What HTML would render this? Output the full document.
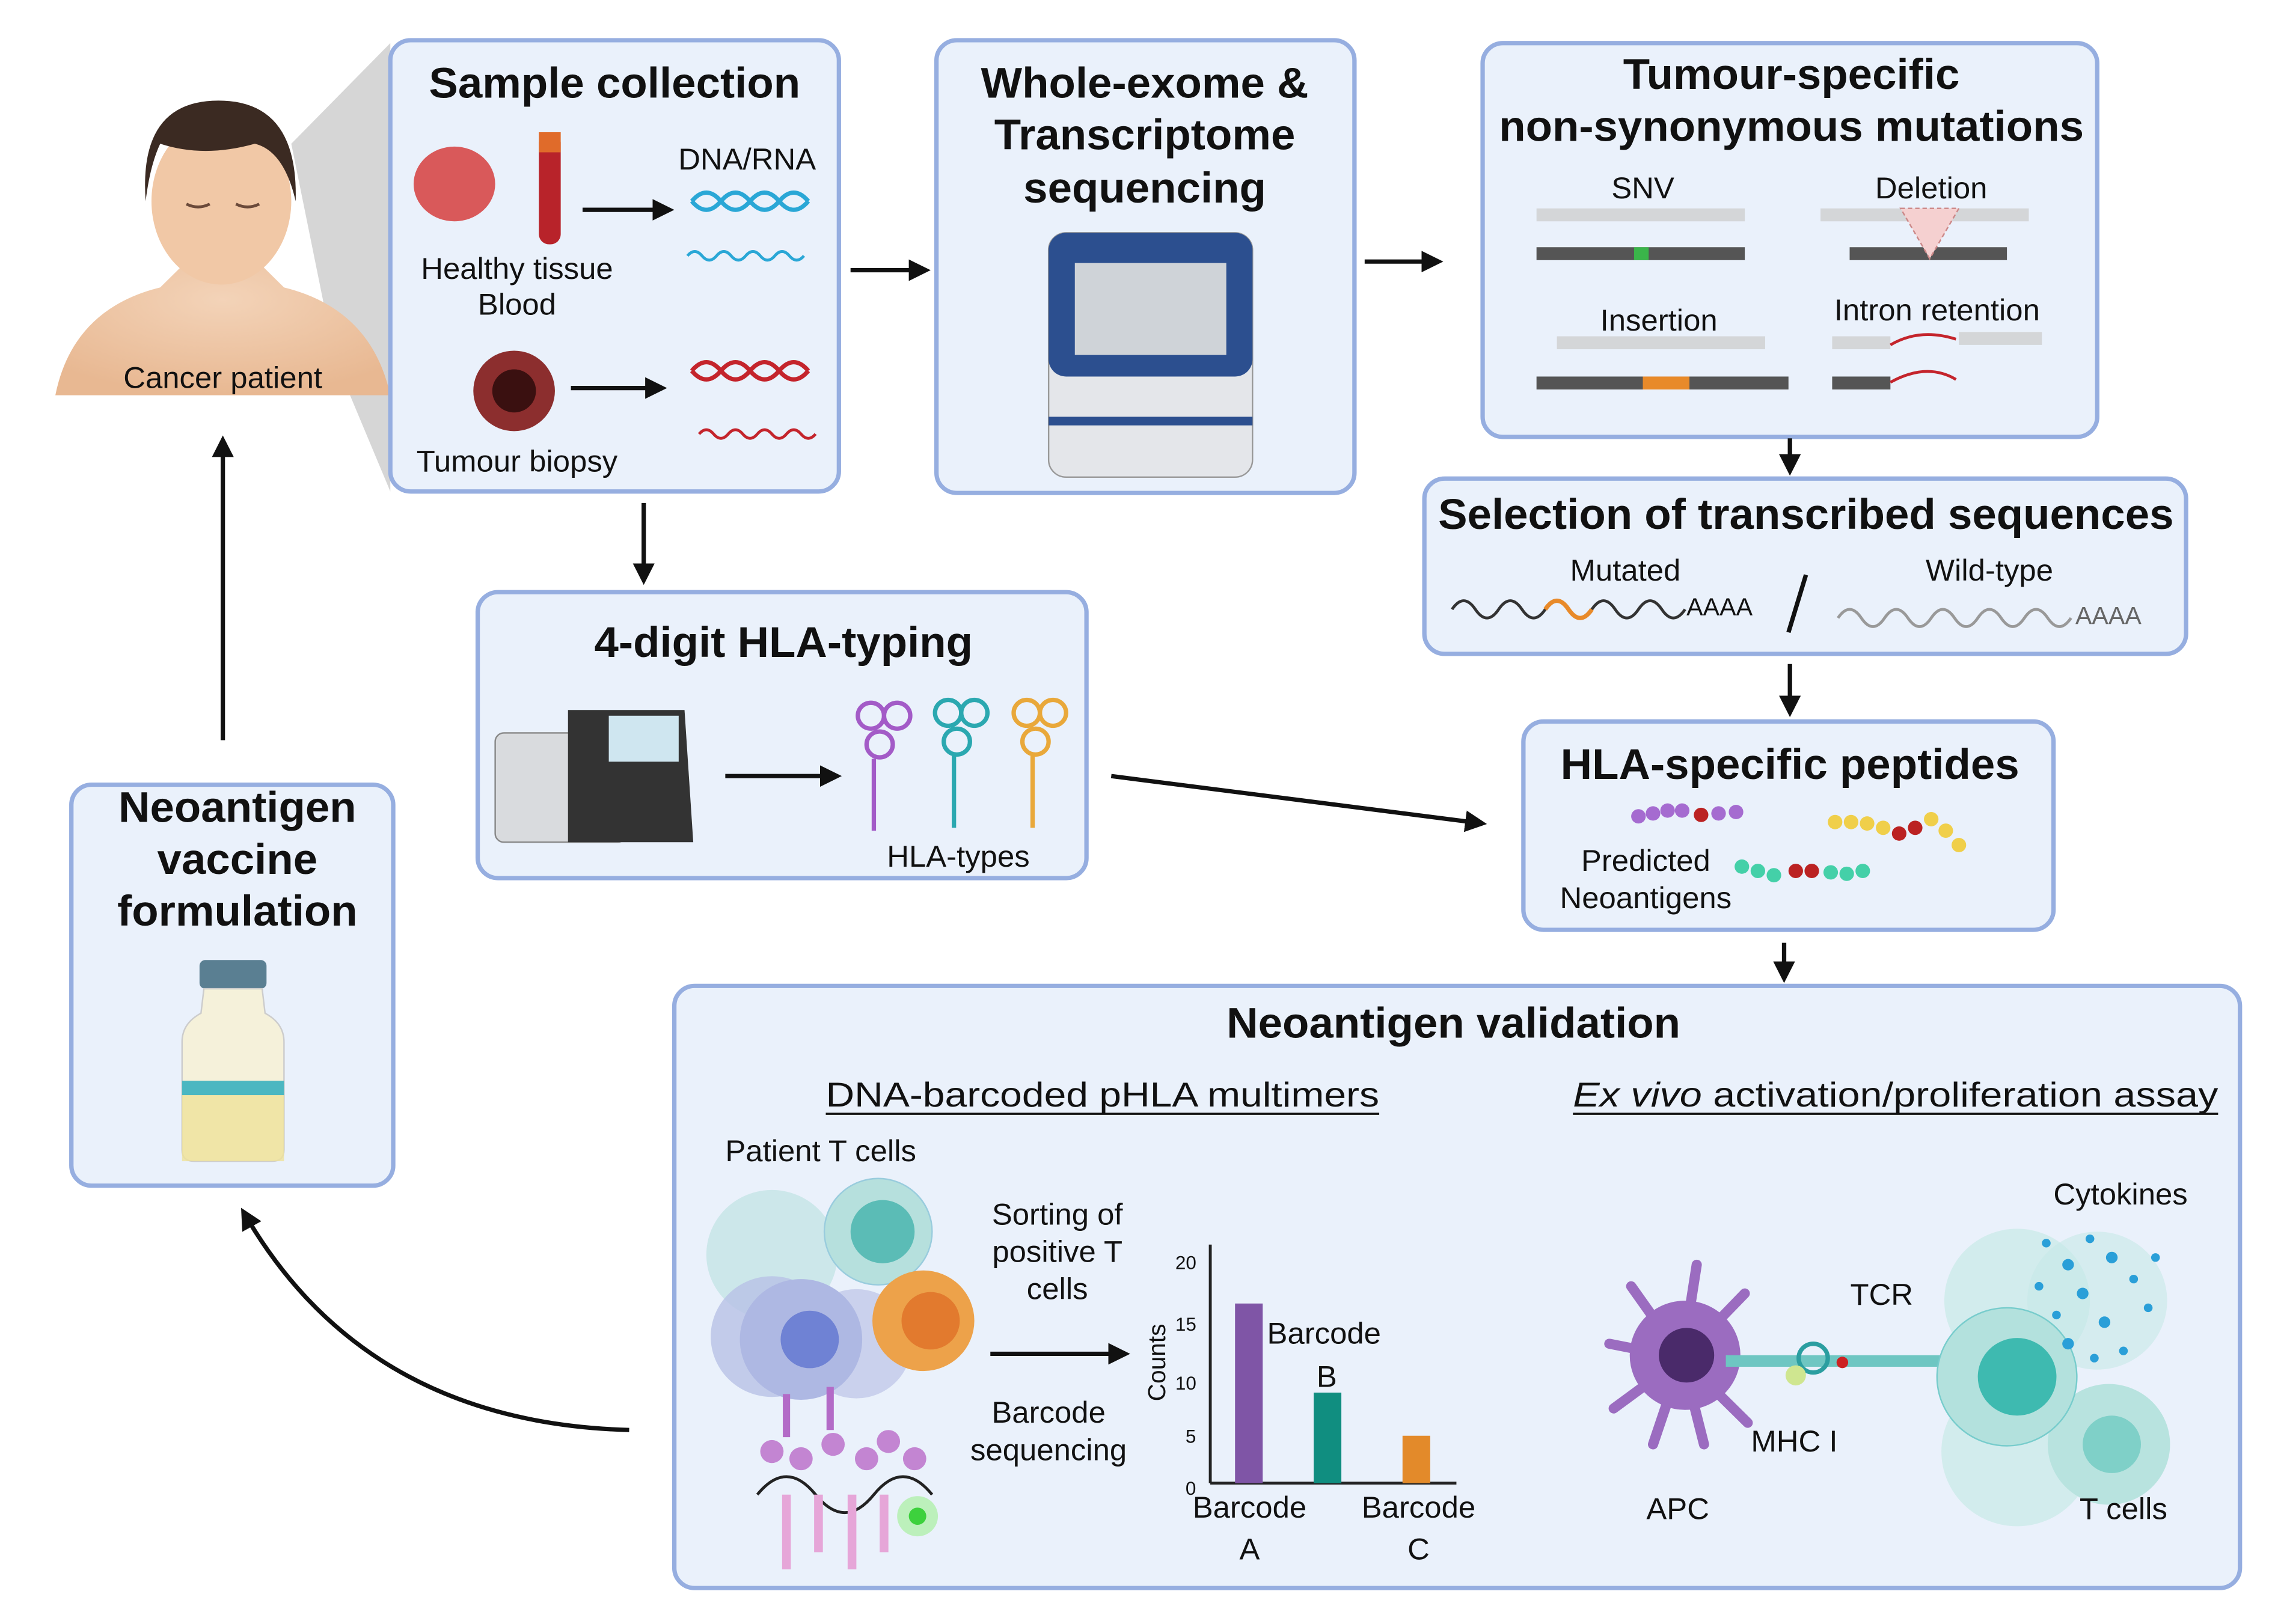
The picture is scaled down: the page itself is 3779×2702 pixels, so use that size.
<!DOCTYPE html>
<html><head><meta charset="utf-8"><style>
html,body{margin:0;padding:0;background:#fff;}
svg{display:block;}
text{font-family:"Liberation Sans",sans-serif;fill:#111;}
.t{font-weight:bold;font-size:30px;text-anchor:middle;}
.l{font-size:21px;}
.m{text-anchor:middle;}
.box{fill:#eaf1fb;stroke:#96aee0;stroke-width:3;}
.ar{stroke:#111;stroke-width:3;fill:none;}
</style></head><body>
<svg width="3779" height="2702" viewBox="0 0 1560 1130" preserveAspectRatio="none" xmlns="http://www.w3.org/2000/svg">
<defs>
<marker id="a" markerWidth="5" markerHeight="5" refX="4" refY="2.5" orient="auto" markerUnits="strokeWidth"><path d="M0,0 L5,2.5 L0,5 z" fill="#111"/></marker>
<radialGradient id="sk" cx="0.5" cy="0.3" r="0.7"><stop offset="0" stop-color="#f3d3b8"/><stop offset="1" stop-color="#e8b892"/></radialGradient>
</defs>
<rect width="1560" height="1130" fill="#fff"/>
<!-- patient -->
<polygon points="200,100 268,30 268,342 230,250" fill="#d6d6d6"/>
<path d="M38,275 Q50,215 110,200 L130,180 L175,180 L195,200 Q255,215 268,275 Z" fill="url(#sk)"/>
<ellipse cx="152" cy="140" rx="48" ry="58" fill="#f1c8a6"/>
<path d="M100,140 Q95,70 150,70 Q205,70 203,140 Q195,105 175,100 Q140,110 110,100 Q103,115 100,140 Z" fill="#3b2a22"/>
<path d="M128,142 q8,4 16,0 M162,142 q8,4 16,0" stroke="#6b4a3a" stroke-width="2" fill="none"/>
<text class="l m" x="153" y="270">Cancer patient</text>
<!-- boxes -->
<rect class="box" x="268" y="28" width="308" height="314" rx="14"/>
<rect class="box" x="643" y="28" width="287" height="315" rx="14"/>
<rect class="box" x="1018" y="30" width="422" height="274" rx="14"/>
<rect class="box" x="978" y="333" width="523" height="122" rx="14"/>
<rect class="box" x="328" y="412" width="418" height="199" rx="14"/>
<rect class="box" x="1046" y="502" width="364" height="145" rx="14"/>
<rect class="box" x="49" y="546" width="221" height="279" rx="14"/>
<rect class="box" x="463" y="686" width="1075" height="419" rx="14"/>
<!-- sample collection -->
<text class="t" x="422" y="68">Sample collection</text>
<ellipse cx="312" cy="128" rx="28" ry="26" fill="#d9595a"/>
<rect x="370" y="92" width="15" height="78" rx="7" fill="#b8232a"/><rect x="370" y="92" width="15" height="14" fill="#e06b2a"/>
<text class="l m" x="355" y="194">Healthy tissue</text><text class="l m" x="355" y="219">Blood</text>
<text class="l m" x="513" y="118">DNA/RNA</text>
<path d="M475,140 q10,-12 20,0 t20,0 t20,0 t20,0 M475,140 q10,12 20,0 t20,0 t20,0 t20,0" stroke="#2aa7d6" stroke-width="3" fill="none"/>
<path d="M472,178 q5,-6 10,0 t10,0 t10,0 t10,0 t10,0 t10,0 t10,0 t10,0" stroke="#2aa7d6" stroke-width="2" fill="none"/>
<circle cx="353" cy="272" r="28" fill="#8c2e2e"/><circle cx="353" cy="272" r="15" fill="#3a1010"/>
<path d="M475,258 q10,-12 20,0 t20,0 t20,0 t20,0 M475,258 q10,12 20,0 t20,0 t20,0 t20,0" stroke="#c4242c" stroke-width="3" fill="none"/>
<path d="M480,302 q5,-6 10,0 t10,0 t10,0 t10,0 t10,0 t10,0 t10,0 t10,0" stroke="#c4242c" stroke-width="2" fill="none"/>
<text class="l m" x="355" y="328">Tumour biopsy</text>
<line class="ar" x1="400" y1="146" x2="460" y2="146" marker-end="url(#a)"/>
<line class="ar" x1="392" y1="270" x2="455" y2="270" marker-end="url(#a)"/>
<!-- whole exome -->
<text class="t" x="786" y="68">Whole-exome &amp;</text><text class="t" x="786" y="104">Transcriptome</text><text class="t" x="786" y="141">sequencing</text>
<rect x="720" y="162" width="140" height="170" rx="12" fill="#e4e6ea" stroke="#999"/>
<rect x="720" y="162" width="140" height="100" rx="12" fill="#2c4f8f"/>
<rect x="738" y="183" width="104" height="64" fill="#cfd3d8"/>
<rect x="720" y="290" width="140" height="6" fill="#2c4f8f"/>
<line class="ar" x1="584" y1="188" x2="636" y2="188" marker-end="url(#a)"/>
<line class="ar" x1="937" y1="182" x2="988" y2="182" marker-end="url(#a)"/>
<!-- tumour specific -->
<text class="t" x="1230" y="62">Tumour-specific</text><text class="t" x="1230" y="98">non-synonymous mutations</text>
<text class="l m" x="1128" y="138">SNV</text><text class="l m" x="1326" y="138">Deletion</text>
<rect x="1055" y="145" width="143" height="9" fill="#d4d6d8"/><rect x="1055" y="172" width="143" height="9" fill="#555"/><rect x="1122" y="172" width="10" height="9" fill="#3ab54a"/>
<rect x="1250" y="145" width="143" height="9" fill="#d4d6d8"/><rect x="1270" y="172" width="108" height="9" fill="#555"/>
<path d="M1305,145 L1345,145 L1325,180 Z" fill="#f5d0d0" stroke="#c88" stroke-dasharray="3 2"/>
<text class="l m" x="1139" y="230">Insertion</text><text class="l m" x="1330" y="223">Intron retention</text>
<rect x="1069" y="234" width="143" height="9" fill="#d4d6d8"/><rect x="1055" y="262" width="173" height="9" fill="#555"/><rect x="1128" y="262" width="32" height="9" fill="#e88a2a"/>
<rect x="1258" y="234" width="40" height="9" fill="#d4d6d8"/><rect x="1345" y="231" width="57" height="9" fill="#d4d6d8"/><rect x="1258" y="262" width="40" height="9" fill="#555"/>
<path d="M1298,240 q20,-12 45,-4 M1298,266 q25,-14 45,-2" stroke="#c4242c" stroke-width="2" fill="none"/>
<line class="ar" x1="1229" y1="305" x2="1229" y2="328" marker-end="url(#a)"/>
<!-- selection -->
<text class="t" x="1240" y="368">Selection of transcribed sequences</text>
<text class="l m" x="1116" y="404">Mutated</text><text class="l m" x="1366" y="404">Wild-type</text>
<path d="M997,424 q8,-12 16,0 t16,0 t16,0 t16,0 t16,0 t16,0 t16,0 t16,0 t16,0 t16,0" stroke="#333" stroke-width="2" fill="none"/>
<path d="M1061,424 q8,-12 16,0 t16,0" stroke="#e88a2a" stroke-width="3" fill="none"/>
<text x="1158" y="428" font-size="17">AAAA</text>
<line x1="1240" y1="400" x2="1228" y2="440" stroke="#111" stroke-width="3"/>
<path d="M1262,430 q8,-12 16,0 t16,0 t16,0 t16,0 t16,0 t16,0 t16,0 t16,0 t16,0 t16,0" stroke="#999" stroke-width="2" fill="none"/>
<text x="1425" y="434" font-size="17" style="fill:#666">AAAA</text>
<line class="ar" x1="1229" y1="462" x2="1229" y2="496" marker-end="url(#a)"/>
<!-- HLA typing -->
<line class="ar" x1="442" y1="350" x2="442" y2="404" marker-end="url(#a)"/>
<text class="t" x="538" y="457">4-digit HLA-typing</text>
<rect x="340" y="510" width="90" height="76" rx="6" fill="#d9dbde" stroke="#888"/>
<path d="M390,494 L470,494 L476,586 L390,586 Z" fill="#333"/><rect x="418" y="498" width="48" height="32" fill="#cfe6f0"/>
<line class="ar" x1="498" y1="540" x2="575" y2="540" marker-end="url(#a)"/>
<g fill="none" stroke-width="3">
<circle cx="598" cy="498" r="9" stroke="#a35bc7"/><circle cx="616" cy="498" r="9" stroke="#a35bc7"/><circle cx="604" cy="518" r="9" stroke="#a35bc7"/><line x1="600" y1="528" x2="600" y2="578" stroke="#a35bc7"/>
<circle cx="651" cy="496" r="9" stroke="#2ba8b0"/><circle cx="669" cy="496" r="9" stroke="#2ba8b0"/><circle cx="657" cy="516" r="9" stroke="#2ba8b0"/><line x1="655" y1="526" x2="655" y2="576" stroke="#2ba8b0"/>
<circle cx="705" cy="496" r="9" stroke="#e9a83a"/><circle cx="723" cy="496" r="9" stroke="#e9a83a"/><circle cx="711" cy="516" r="9" stroke="#e9a83a"/><line x1="709" y1="526" x2="709" y2="576" stroke="#e9a83a"/>
</g>
<text class="l m" x="658" y="603">HLA-types</text>
<line class="ar" x1="763" y1="540" x2="1018" y2="573" marker-end="url(#a)"/>
<!-- peptides -->
<text class="t" x="1229" y="542">HLA-specific peptides</text>
<g>
<circle cx="1125" cy="568" r="5" fill="#a56bd0"/><circle cx="1135" cy="566" r="5" fill="#a56bd0"/><circle cx="1145" cy="564" r="5" fill="#a56bd0"/><circle cx="1155" cy="564" r="5" fill="#a56bd0"/><circle cx="1168" cy="567" r="5" fill="#b22"/><circle cx="1180" cy="566" r="5" fill="#a56bd0"/><circle cx="1192" cy="565" r="5" fill="#a56bd0"/>
<circle cx="1260" cy="572" r="5" fill="#f0cf4a"/><circle cx="1271" cy="572" r="5" fill="#f0cf4a"/><circle cx="1282" cy="573" r="5" fill="#f0cf4a"/><circle cx="1293" cy="576" r="5" fill="#f0cf4a"/><circle cx="1304" cy="580" r="5" fill="#b22"/><circle cx="1315" cy="576" r="5" fill="#b22"/><circle cx="1326" cy="570" r="5" fill="#f0cf4a"/><circle cx="1336" cy="578" r="5" fill="#f0cf4a"/><circle cx="1345" cy="588" r="5" fill="#f0cf4a"/>
<circle cx="1196" cy="603" r="5" fill="#44d0a8"/><circle cx="1207" cy="606" r="5" fill="#44d0a8"/><circle cx="1218" cy="609" r="5" fill="#44d0a8"/><circle cx="1233" cy="606" r="5" fill="#b22"/><circle cx="1244" cy="606" r="5" fill="#b22"/><circle cx="1257" cy="607" r="5" fill="#44d0a8"/><circle cx="1268" cy="608" r="5" fill="#44d0a8"/><circle cx="1279" cy="606" r="5" fill="#44d0a8"/>
</g>
<text class="l m" x="1130" y="606">Predicted</text><text class="l m" x="1130" y="632">Neoantigens</text>
<line class="ar" x1="1225" y1="656" x2="1225" y2="681" marker-end="url(#a)"/>
<!-- vaccine -->
<text class="t" x="163" y="572">Neoantigen</text><text class="t" x="163" y="608">vaccine</text><text class="t" x="163" y="644">formulation</text>
<rect x="137" y="668" width="46" height="20" rx="4" fill="#5a7f92"/>
<path d="M140,688 L180,688 L182,705 Q195,712 195,725 L195,800 Q195,808 187,808 L133,808 Q125,808 125,800 L125,725 Q125,712 138,705 Z" fill="#f5f1da" stroke="#ccc"/>
<rect x="125" y="760" width="70" height="48" fill="#efe29a" opacity=".8"/>
<rect x="125" y="752" width="70" height="10" fill="#4bb7c1"/>
<line class="ar" x1="153" y1="515" x2="153" y2="306" marker-end="url(#a)"/>
<path class="ar" d="M432,995 Q250,990 167,843" marker-end="url(#a)"/>
<!-- validation -->
<text class="t" x="998" y="722">Neoantigen validation</text>
<text class="l" x="567" y="770" style="font-size:24px" textLength="380" lengthAdjust="spacingAndGlyphs">DNA-barcoded pHLA multimers</text>
<line x1="567" y1="775" x2="947" y2="775" stroke="#111" stroke-width="1.5"/>
<text class="l" x="1080" y="770" style="font-size:24px" textLength="443" lengthAdjust="spacingAndGlyphs"><tspan font-style="italic">Ex vivo</tspan> activation/proliferation assay</text>
<line x1="1080" y1="775" x2="1523" y2="775" stroke="#111" stroke-width="1.5"/>
<text class="l" x="498" y="808">Patient  T cells</text>
<circle cx="530" cy="873" r="45" fill="#bfe3e2" opacity=".7"/><circle cx="603" cy="857" r="37" fill="#b6e0dd" stroke="#9cd"/><circle cx="606" cy="857" r="22" fill="#5bbcb6"/>
<circle cx="530" cy="930" r="42" fill="#b8c2e6" opacity=".8"/><circle cx="588" cy="935" r="38" fill="#c2c9ea" opacity=".8"/><circle cx="550" cy="932" r="42" fill="#aeb8e3"/><circle cx="556" cy="932" r="20" fill="#6f82d4"/>
<circle cx="634" cy="919" r="35" fill="#eda24a"/><circle cx="639" cy="919" r="20" fill="#e27a2e"/>
<path d="M520,1040 q20,-25 40,0 t40,0 t40,0" stroke="#222" stroke-width="2" fill="none"/>
<g stroke="#b36bc7" stroke-width="5"><line x1="540" y1="970" x2="540" y2="1000"/><line x1="570" y1="965" x2="570" y2="995"/></g>
<g fill="#c385d2"><circle cx="530" cy="1010" r="8"/><circle cx="550" cy="1015" r="8"/><circle cx="572" cy="1005" r="8"/><circle cx="595" cy="1015" r="8"/><circle cx="610" cy="1003" r="8"/><circle cx="628" cy="1015" r="8"/></g>
<g stroke="#e6a6d8" stroke-width="6"><line x1="540" y1="1040" x2="540" y2="1092"/><line x1="562" y1="1040" x2="562" y2="1080"/><line x1="585" y1="1040" x2="585" y2="1092"/><line x1="607" y1="1040" x2="607" y2="1080"/></g>
<circle cx="630" cy="1055" r="14" fill="#a8f0a0" opacity=".7"/><circle cx="630" cy="1055" r="6" fill="#3dd13d"/>
<text class="l m" x="726" y="852">Sorting of</text><text class="l m" x="726" y="878">positive T</text><text class="l m" x="726" y="904">cells</text>
<line class="ar" x1="680" y1="942" x2="773" y2="942" marker-end="url(#a)"/>
<text class="l m" x="720" y="990">Barcode</text><text class="l m" x="720" y="1016">sequencing</text>
<!-- chart -->
<line x1="831" y1="866" x2="831" y2="1032" stroke="#222" stroke-width="2"/><line x1="831" y1="1032" x2="1000" y2="1032" stroke="#222" stroke-width="2"/>
<g font-size="13"><text x="807" y="883">20</text><text x="807" y="926">15</text><text x="807" y="967">10</text><text x="814" y="1004">5</text><text x="814" y="1040">0</text></g>
<text x="800" y="975" font-size="17" transform="rotate(-90 800 975)">Counts</text>
<rect x="848" y="907" width="19" height="125" fill="#7f55a6"/>
<rect x="902" y="969" width="19" height="63" fill="#108e80"/>
<rect x="963" y="999" width="19" height="33" fill="#e38a2a"/>
<text class="l" x="870" y="935">Barcode</text><text class="l m" x="911" y="965">B</text>
<text class="l m" x="858" y="1056">Barcode</text><text class="l m" x="858" y="1085">A</text>
<text class="l m" x="974" y="1056">Barcode</text><text class="l m" x="974" y="1085">C</text>
<!-- APC / T cells -->
<g stroke="#9b6cc0" stroke-width="7" stroke-linecap="round"><line x1="1155" y1="945" x2="1120" y2="895"/><line x1="1155" y1="945" x2="1105" y2="935"/><line x1="1155" y1="945" x2="1108" y2="980"/><line x1="1155" y1="945" x2="1135" y2="1005"/><line x1="1155" y1="945" x2="1170" y2="1005"/><line x1="1155" y1="945" x2="1200" y2="990"/><line x1="1155" y1="945" x2="1165" y2="880"/><line x1="1155" y1="945" x2="1198" y2="900"/></g>
<circle cx="1157" cy="943" r="38" fill="#9b6cc0"/><circle cx="1158" cy="943" r="19" fill="#4a2a6a"/>
<text class="l m" x="1152" y="1057">APC</text><text class="l m" x="1232" y="1010">MHC I</text><text class="l m" x="1292" y="908">TCR</text>
<rect x="1185" y="943" width="150" height="8" fill="#6ec6c2"/>
<circle cx="1245" cy="945" r="10" fill="none" stroke="#2b9ea0" stroke-width="3"/><circle cx="1233" cy="957" r="7" fill="#cfe690"/><circle cx="1265" cy="948" r="4" fill="#c22"/>
<circle cx="1385" cy="905" r="50" fill="#c7e9e7" opacity=".7"/><circle cx="1440" cy="905" r="48" fill="#c7e9e7" opacity=".6"/>
<circle cx="1385" cy="1010" r="52" fill="#c7e9e7" opacity=".7"/><circle cx="1448" cy="1005" r="42" fill="#b8e3df"/><circle cx="1450" cy="1005" r="20" fill="#7fd0c8"/>
<circle cx="1378" cy="958" r="48" fill="#b3e1dd" stroke="#7cc"/><circle cx="1385" cy="958" r="27" fill="#3ebab0"/>
<g fill="#2a9fd8"><circle cx="1405" cy="865" r="3"/><circle cx="1420" cy="880" r="4"/><circle cx="1435" cy="862" r="3"/><circle cx="1450" cy="875" r="4"/><circle cx="1465" cy="890" r="3"/><circle cx="1430" cy="900" r="4"/><circle cx="1412" cy="915" r="3"/><circle cx="1445" cy="920" r="4"/><circle cx="1475" cy="910" r="3"/><circle cx="1420" cy="935" r="4"/><circle cx="1458" cy="940" r="3"/><circle cx="1480" cy="875" r="3"/><circle cx="1400" cy="895" r="3"/><circle cx="1438" cy="945" r="3"/></g>
<text class="l m" x="1456" y="838">Cytokines</text><text class="l m" x="1458" y="1057">T cells</text>
</svg>
</body></html>
